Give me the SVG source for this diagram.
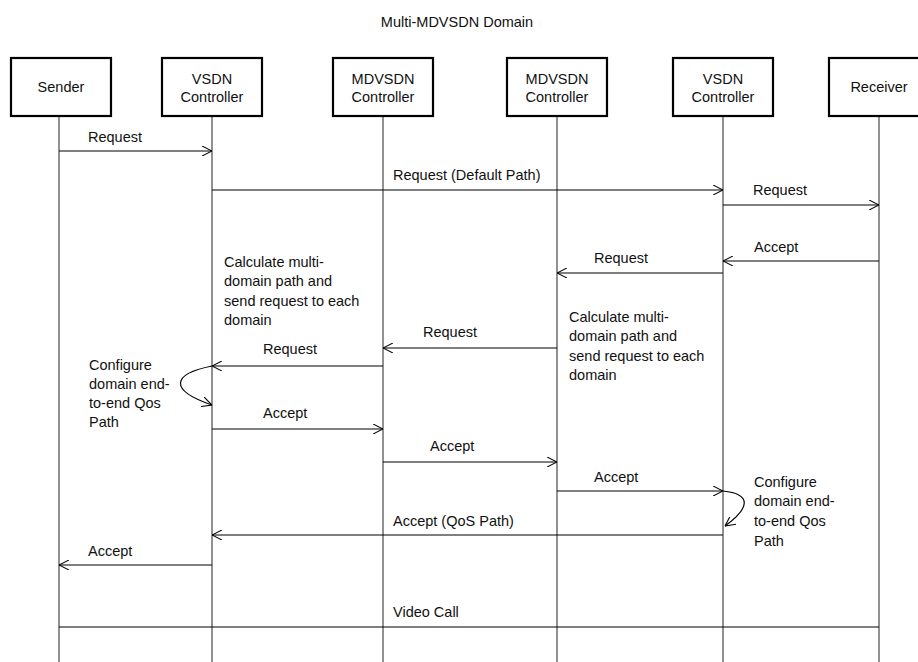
<svg xmlns="http://www.w3.org/2000/svg" width="918" height="662" viewBox="0 0 918 662">
<style>
text{font-family:"Liberation Sans",Arial,sans-serif;font-size:14.5px;fill:#111}
.box{fill:#fff;stroke:#000;stroke-width:2.2}
.life{stroke:#555;stroke-width:1.3;fill:none}
.msg{stroke:#000;stroke-width:1.2;fill:none}
.mid{text-anchor:middle}
</style>
<defs>
<marker id="ah" viewBox="0 0 10 10" refX="10" refY="5" markerWidth="10" markerHeight="10" markerUnits="userSpaceOnUse" orient="auto">
<path d="M0,0 L10,5 L0,10" fill="none" stroke="#000" stroke-width="1.1"/>
</marker>
</defs>
<rect width="918" height="662" fill="#fff"/>
<text x="457" y="27" class="mid">Multi-MDVSDN Domain</text>

<g id="lifelines">
<line class="life" x1="59" y1="116" x2="59" y2="662"/>
<line class="life" x1="212" y1="116" x2="212" y2="662"/>
<line class="life" x1="383" y1="116" x2="383" y2="662"/>
<line class="life" x1="557" y1="116" x2="557" y2="662"/>
<line class="life" x1="723" y1="116" x2="723" y2="662"/>
<line class="life" x1="879" y1="116" x2="879" y2="662"/>
</g>

<g id="sender"><rect class="box" x="11" y="58" width="100" height="58"/><text x="61" y="92" class="mid">Sender</text></g>
<g id="vsdn1"><rect class="box" x="162" y="58" width="100" height="58"/><text x="212" y="84" class="mid">VSDN</text><text x="212" y="102" class="mid">Controller</text></g>
<g id="mdvsdn1"><rect class="box" x="333" y="58" width="100" height="58"/><text x="383" y="84" class="mid">MDVSDN</text><text x="383" y="102" class="mid">Controller</text></g>
<g id="mdvsdn2"><rect class="box" x="507" y="58" width="100" height="58"/><text x="557" y="84" class="mid">MDVSDN</text><text x="557" y="102" class="mid">Controller</text></g>
<g id="vsdn2"><rect class="box" x="673" y="58" width="100" height="58"/><text x="723" y="84" class="mid">VSDN</text><text x="723" y="102" class="mid">Controller</text></g>
<g id="receiver"><rect class="box" x="829" y="58" width="100" height="58"/><text x="879" y="92" class="mid">Receiver</text></g>

<g id="connectors">
<line class="msg" x1="59" y1="151" x2="212" y2="151" marker-end="url(#ah)"/>
<line class="msg" x1="212" y1="190" x2="723" y2="190" marker-end="url(#ah)"/>
<line class="msg" x1="723" y1="205" x2="879" y2="205" marker-end="url(#ah)"/>
<line class="msg" x1="879" y1="261" x2="723" y2="261" marker-end="url(#ah)"/>
<line class="msg" x1="723" y1="273" x2="557" y2="273" marker-end="url(#ah)"/>
<line class="msg" x1="557" y1="348" x2="383" y2="348" marker-end="url(#ah)"/>
<line class="msg" x1="383" y1="366" x2="212" y2="366" marker-end="url(#ah)"/>
<path class="msg" d="M212,366 C172,374 168,390 212,405" marker-end="url(#ah)"/>
<line class="msg" x1="212" y1="429" x2="383" y2="429" marker-end="url(#ah)"/>
<line class="msg" x1="383" y1="462" x2="557" y2="462" marker-end="url(#ah)"/>
<line class="msg" x1="557" y1="491" x2="723" y2="491" marker-end="url(#ah)"/>
<path class="msg" d="M723,491 C752,494 750,508 725,526" marker-end="url(#ah)"/>
<line class="msg" x1="723" y1="535" x2="212" y2="535" marker-end="url(#ah)"/>
<line class="msg" x1="212" y1="565" x2="59" y2="565" marker-end="url(#ah)"/>
<line class="msg" x1="59" y1="627" x2="879" y2="627"/>
</g>

<g id="labels">
<text x="88" y="142">Request</text>
<text x="393" y="180">Request (Default Path)</text>
<text x="753" y="195">Request</text>
<text x="754" y="252">Accept</text>
<text x="594" y="263">Request</text>
<text x="423" y="337">Request</text>
<text x="263" y="354">Request</text>
<text x="263" y="418">Accept</text>
<text x="430" y="451">Accept</text>
<text x="594" y="482">Accept</text>
<text x="393" y="526">Accept (QoS Path)</text>
<text x="88" y="556">Accept</text>
<text x="393" y="617">Video Call</text>
</g>

<g id="note-calc1">
<text x="224" y="267">Calculate multi-</text>
<text x="224" y="286">domain path and</text>
<text x="224" y="306">send request to each</text>
<text x="224" y="325">domain</text>
</g>
<g id="note-calc2">
<text x="569" y="322">Calculate multi-</text>
<text x="569" y="341">domain path and</text>
<text x="569" y="361">send request to each</text>
<text x="569" y="380">domain</text>
</g>
<g id="note-config1">
<text x="89" y="370">Configure</text>
<text x="89" y="389">domain end-</text>
<text x="89" y="408">to-end Qos</text>
<text x="89" y="427">Path</text>
</g>
<g id="note-config2">
<text x="754" y="487">Configure</text>
<text x="754" y="506">domain end-</text>
<text x="754" y="526">to-end Qos</text>
<text x="754" y="546">Path</text>
</g>
</svg>
